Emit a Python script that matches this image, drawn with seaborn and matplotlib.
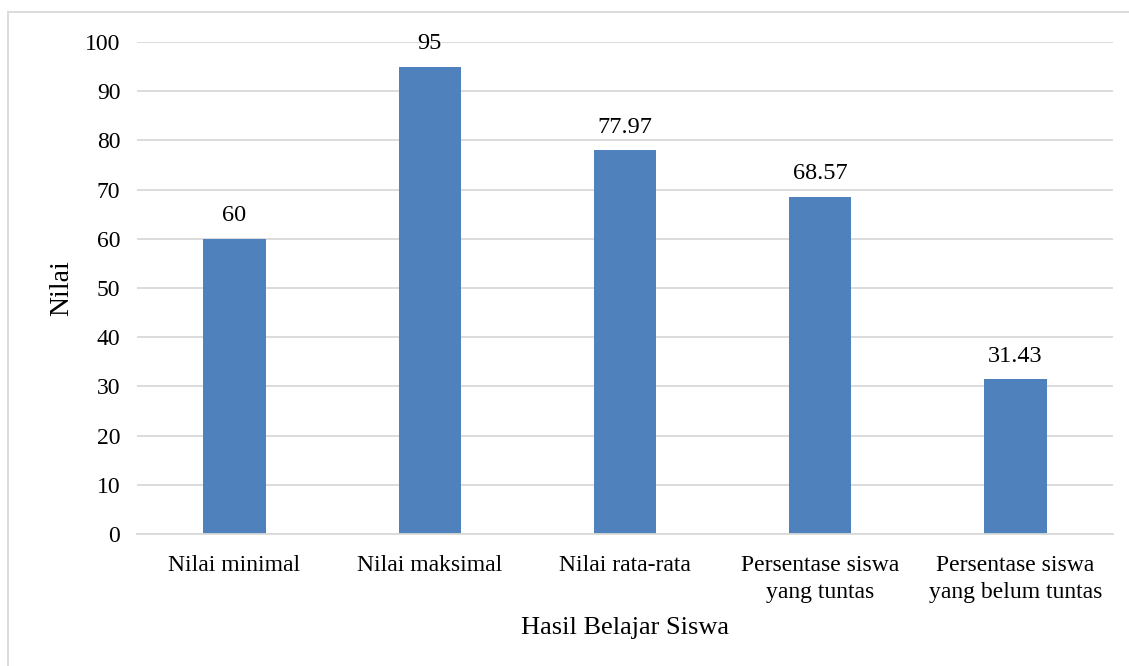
import matplotlib.pyplot as plt
import seaborn as sns
import pandas as pd

categories = ['Nilai minimal', 'Nilai maksimal', 'Nilai rata-rata',
              'Persentase siswa\nyang tuntas', 'Persentase siswa\nyang belum tuntas']
values = [60, 95, 77.97, 68.57, 31.43]
value_labels = ['60', '95', '77.97', '68.57', '31.43']
y_ticks = [0, 10, 20, 30, 40, 50, 60, 70, 80, 90, 100]

sns.set_style('white')
plt.rcParams['font.family'] = ['Liberation Serif', 'DejaVu Serif']
plt.rcParams['text.color'] = 'black'
plt.rcParams['xtick.color'] = 'black'
plt.rcParams['ytick.color'] = 'black'
plt.rcParams['axes.labelcolor'] = 'black'

df = pd.DataFrame({'kategori': categories, 'nilai': values})

fig = plt.figure(figsize=(11.29, 6.66), dpi=100)
ax = fig.add_axes([0.1213, 0.198, 0.8645, 0.739])

sns.barplot(data=df, x='kategori', y='nilai', color='#4F81BD', width=0.32,
            saturation=1, linewidth=0, ax=ax)

ax.set_ylim(0, 100)
ax.set_yticks(y_ticks)
ax.set_yticklabels([str(t) for t in y_ticks], fontsize=17)
ax.tick_params(axis='x', labelsize=17, length=0, pad=15)
ax.tick_params(axis='y', length=0, pad=12)
for lab in ax.get_xticklabels():
    lab.set_linespacing(1.4)
ax.yaxis.grid(True, color='#D9D9D9', linewidth=1.3)
ax.set_axisbelow(True)
for side in ['top', 'right', 'left']:
    ax.spines[side].set_visible(False)
ax.spines['bottom'].set_color('#D9D9D9')
ax.spines['bottom'].set_linewidth(1.3)

for p, lab in zip(ax.patches, value_labels):
    ax.text(p.get_x() + p.get_width() / 2, p.get_height() + 2.6, lab,
            ha='center', va='bottom', fontsize=17.5)

ax.set_xlabel('Hasil Belajar Siswa', fontsize=19, labelpad=10)
ax.set_ylabel('Nilai', fontsize=20, labelpad=8)

# bingkai luar
fig.add_artist(plt.Line2D([8 / 1129, 8 / 1129], [0, 1 - 12 / 666], color='#D9D9D9', lw=1.3))
fig.add_artist(plt.Line2D([8 / 1129, 1], [1 - 12 / 666, 1 - 12 / 666], color='#D9D9D9', lw=1.3))

fig.savefig('out.png', dpi=100)
